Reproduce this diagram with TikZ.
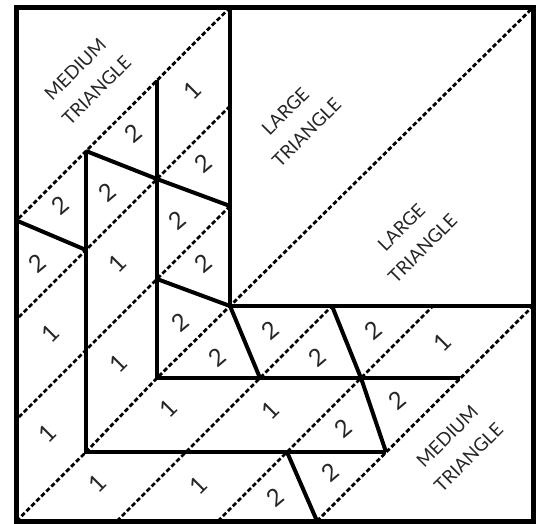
\documentclass[tikz,border=0pt]{standalone}
\usepackage{fontspec}
\setmainfont{Lato}
\begin{document}
\begin{tikzpicture}[x=1pt,y=-1pt,
  border/.style={line width=5pt},
  seam/.style={line width=4.5pt},
  slant/.style={line width=4pt},
  fold/.style={line width=2.8pt, dash pattern=on 4.5pt off 2.5pt},
  lbl/.style={font=\fontsize{18.5}{30}\selectfont, align=center, rotate=45, text=black!85, inner sep=0pt},
  one/.style={font=\fontsize{24}{24}\selectfont, rotate=45, inner sep=0pt, text=black!85},
  two/.style={font=\fontsize{24}{24}\selectfont, rotate=40, inner sep=0pt, text=black!85}]
\useasboundingbox (0,0) rectangle (537,523);
% corners
\coordinate (TL) at (16.5,7.5);
\coordinate (TR) at (533,7.5);
\coordinate (BR) at (533,521);
\coordinate (BL) at (16.5,521);
% diagonal d2
\coordinate (A0) at (230,7.5);
\coordinate (A1) at (157,80);
\coordinate (A2) at (86,151);
\coordinate (A3) at (16.5,220.5);
% diagonal d3
\coordinate (B0) at (230,106);
\coordinate (B1) at (157,179);
\coordinate (B2) at (86,250);
\coordinate (B3) at (16.5,319.5);
% diagonal d4
\coordinate (C0) at (230,206);
\coordinate (C1) at (157,279);
\coordinate (C2) at (86,350);
\coordinate (C3) at (16.5,419.5);
% main diagonal junctions
\coordinate (J1) at (86,452);
\coordinate (J2) at (157,378);
\coordinate (J3) at (230,306);
% diagonal d6
\coordinate (E0) at (117,521);
\coordinate (E1) at (186,452);
\coordinate (E2) at (260,378);
\coordinate (E3) at (332,306);
% diagonal d7
\coordinate (F0) at (218,521);
\coordinate (F1) at (287,452);
\coordinate (F2) at (361,378);
\coordinate (F3) at (433,306);
% diagonal d8
\coordinate (G0) at (317,521);
\coordinate (G1) at (386,452);
\coordinate (G2) at (460,378);
\coordinate (G3) at (533,306);
% dashed fold lines
\draw[fold] (A0) -- (A3);
\draw[fold] (B0) -- (B3);
\draw[fold] (C0) -- (C3);
\draw[fold] (BL) -- (J1) -- (J2) -- (J3) -- (TR);
\draw[fold] (E0) -- (E3);
\draw[fold] (F0) -- (F3);
\draw[fold] (G0) -- (G3);
% solid seams
\draw[seam] (A0) -- (J3) -- (G3);
\draw[seam] (A1) -- (J2) -- (G2);
\draw[seam] (A2) -- (J1) -- (G1);
% slanted seams
\draw[slant] (A3) -- (B2);
\draw[slant] (A2) -- (B1);
\draw[slant] (B1) -- (C0);
\draw[slant] (C1) -- (J3);
\draw[slant] (J3) -- (E2);
\draw[slant] (E3) -- (F2);
\draw[slant] (F2) -- (G1);
\draw[slant] (F1) -- (G0);
% border
\draw[border] (TL) rectangle (BR);
% big labels
\node[lbl] (mt1) at (86,80) {MEDIUM\\TRIANGLE};
\node[lbl] (lt1) at (296,122) {LARGE\\TRIANGLE};
\node[lbl] (lt2) at (412,238) {LARGE\\TRIANGLE};
\node[lbl] (mt2) at (458,447) {MEDIUM\\TRIANGLE};
% piece numbers
\node[one] (n1) at (192,90) {1};
\node[two] (n2) at (133,133) {2};
\node[two] (n3) at (203,163) {2};
\node[two] (n4) at (60,205) {2};
\node[two] (n5) at (107,192) {2};
\node[two] (n6) at (177,220) {2};
\node[two] (n7) at (37,263) {2};
\node[one] (n8) at (117,263) {1};
\node[two] (n9) at (203,263) {2};
\node[one] (n10) at (50,333) {1};
\node[one] (n11) at (118,363) {1};
\node[two] (n12) at (180,322) {2};
\node[two] (n13) at (217,357) {2};
\node[two] (n14) at (270,330) {2};
\node[two] (n15) at (317,357) {2};
\node[two] (n16) at (373,330) {2};
\node[one] (n17) at (442,342) {1};
\node[one] (n18) at (168,408) {1};
\node[one] (n19) at (270,410) {1};
\node[two] (n20) at (343,428) {2};
\node[two] (n21) at (397,400) {2};
\node[one] (n22) at (47,433) {1};
\node[one] (n23) at (97,483) {1};
\node[one] (n24) at (198,485) {1};
\node[two] (n25) at (275,497) {2};
\node[two] (n26) at (330,472) {2};
\end{tikzpicture}
\end{document}
